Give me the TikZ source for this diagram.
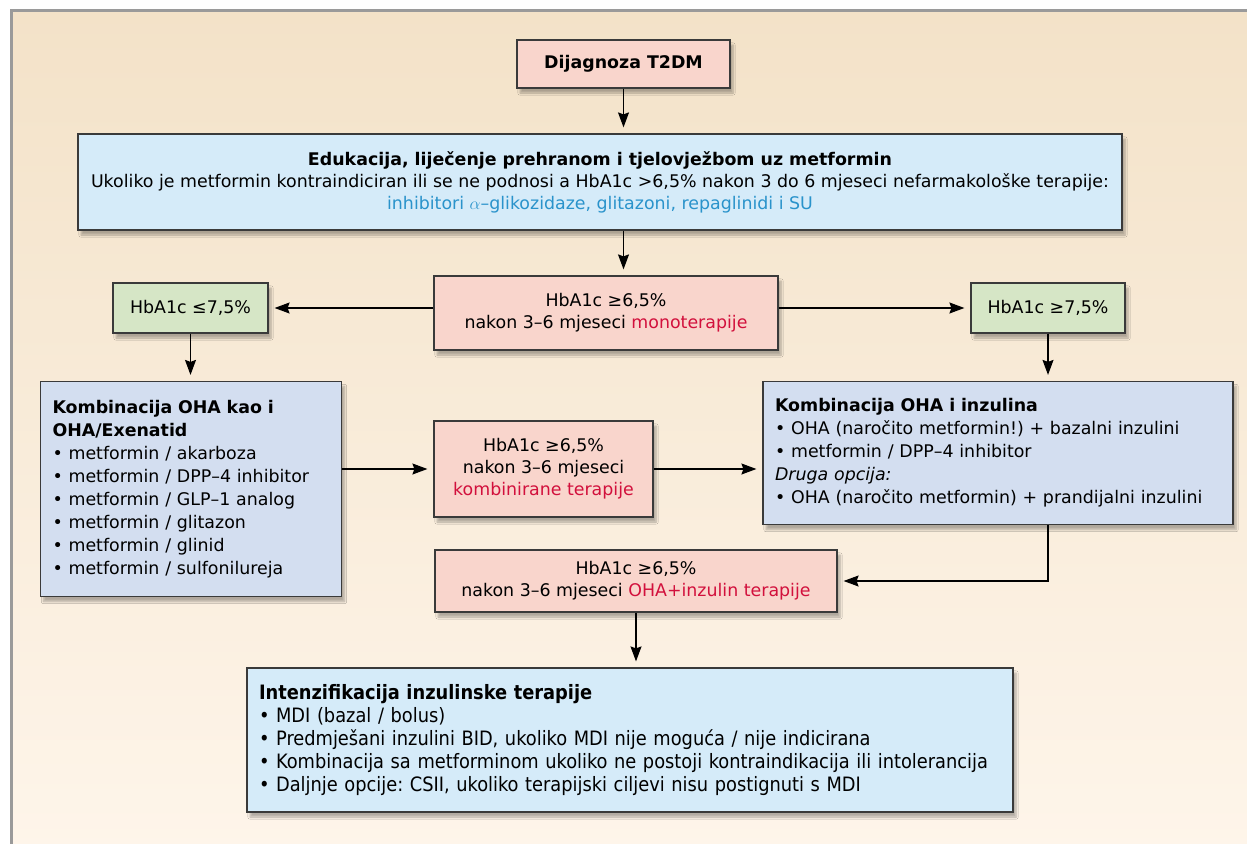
\documentclass[tikz,border=0pt]{standalone}
\usepackage{fontspec}
\setmainfont{DejaVu Sans}
\newfontfamily\condfont{DejaVu Sans Condensed}
\usetikzlibrary{arrows.meta}
\usetikzlibrary{shadows.blur}
\frenchspacing
\definecolor{bgtop}{HTML}{F3E2C8}
\definecolor{bgbot}{HTML}{FEF5EA}
\definecolor{mgray}{HTML}{9A9A9A}
\definecolor{mframe}{HTML}{3A3A3A}
\definecolor{mpink}{HTML}{F9D5CC}
\definecolor{msky}{HTML}{D5EBF9}
\definecolor{mgreen}{HTML}{D6E6C6}
\definecolor{mlav}{HTML}{D3DEF0}
\definecolor{mred}{HTML}{D2103C}
\definecolor{mcyan}{HTML}{2A93CB}
\tikzset{box/.style = {draw = mframe, line width = 1.2pt, inner sep = 0, align = center,
    blur shadow = {shadow xshift = 3pt, shadow yshift = -5pt, shadow opacity = 30, shadow blur steps = 6},
    font = \fontsize{17.4}{22}\selectfont}}
\tikzset{listbox/.style = {box, align = left, inner xsep = 12pt, font = \fontsize{17.4}{23}\selectfont}}
\tikzset{arr/.style = {line width = 1.2pt, -{Stealth[length = 15pt, width = 11pt, inset = 2pt]}, shorten > = 6pt}}

\begin{document}
\begin{tikzpicture}[x = 1pt, y = -1pt]
    \useasboundingbox (0, 0) rectangle (1247, 843);
    \shade [top color = bgtop, bottom color = bgbot, draw = mgray, line width = 3pt] (11, 11) rectangle (1254, 850);

    \node [box, fill = mpink, minimum width = 213, minimum height = 48] (diag) at (623.5, 64) {\textbf{Dijagnoza T2DM}};
    \node [box, fill = msky, minimum width = 1044, minimum height = 96] (edu) at (600, 182) {\textbf{Edukacija, liječenje prehranom i tjelovježbom uz metformin}\\
      Ukoliko je metformin kontraindiciran ili se ne podnosi a HbA1c >6,5\% nakon 3 do 6 mjeseci nefarmakološke terapije:\\
      \textcolor{mcyan}{inhibitori $\alpha$–glikozidaze, glitazoni, repaglinidi i SU}};

    \node [box, fill = mpink, minimum width = 344, minimum height = 74] (mono) at (606, 313) {HbA1c ≥6,5\%\\ nakon 3–6 mjeseci \textcolor{mred}{monoterapije}};
    \node [box, fill = mgreen, minimum width = 155, minimum height = 50] (lgreen) at (190.5, 308) {HbA1c ≤7,5\%};
    \node [box, fill = mgreen, minimum width = 154, minimum height = 50] (rgreen) at (1048, 308) {HbA1c ≥7,5\%};

    \node [listbox, fill = mlav, text width = 277, minimum height = 215] (lcomb) at (191, 489) {\textbf{Kombinacija OHA kao i}\\
      \textbf{OHA/Exenatid}\\
      • metformin / akarboza\\
      • metformin / DPP–4 inhibitor\\
      • metformin / GLP–1 analog\\
      • metformin / glitazon\\
      • metformin / glinid\\
      • metformin / sulfonilureja};
    \node [box, fill = mpink, minimum width = 219, minimum height = 96] (mcomb) at (543.5, 469) {HbA1c ≥6,5\%\\ nakon 3–6 mjeseci\\ \textcolor{mred}{kombinirane terapije}};
    \node [listbox, fill = mlav, text width = 446, minimum height = 143] (rcomb) at (998, 453) {\textbf{Kombinacija OHA i inzulina}\\
      • OHA (naročito metformin!) + bazalni inzulini\\
      • metformin / DPP–4 inhibitor\\
      \textit{Druga opcija:}\\
      • OHA (naročito metformin) + prandijalni inzulini};

    \node [box, fill = mpink, minimum width = 402, minimum height = 62] (ohains) at (636, 581) {HbA1c ≥6,5\%\\ nakon 3–6 mjeseci \textcolor{mred}{OHA+inzulin terapije}};
    \node [listbox, fill = msky, text width = 742, minimum height = 144, font = \condfont\fontsize{19.8}{23}\selectfont] (intens) at (630, 740) {\textbf{Intenzifikacija inzulinske terapije}\\
      • MDI (bazal / bolus)\\
      • Predmješani inzulini BID, ukoliko MDI nije moguća / nije indicirana\\
      • Kombinacija sa metforminom ukoliko ne postoji kontraindikacija ili intolerancija\\
      • Daljnje opcije: CSII, ukoliko terapijski ciljevi nisu postignuti s MDI};

    \draw [arr] (diag.south) -- (diag.south |- edu.north);
    \draw [arr] (edu.south -| diag) -- (diag |- mono.north);
    \draw [arr] (mono.west |- lgreen) -- (lgreen.east);
    \draw [arr] (mono.east |- rgreen) -- (rgreen.west);
    \draw [arr] (lgreen.south) -- (lgreen.south |- lcomb.north);
    \draw [arr] (rgreen.south) -- (rgreen.south |- rcomb.north);
    \draw [arr] (lcomb.east |- mcomb) -- (mcomb.west);
    \draw [arr] (mcomb.east) -- (mcomb.east -| rcomb.west);
    \draw [arr] (rcomb.south -| rgreen) |- (ohains.east);
    \draw [arr] (ohains.south) -- (ohains.south |- intens.north);
  \end{tikzpicture}
\end{document}
